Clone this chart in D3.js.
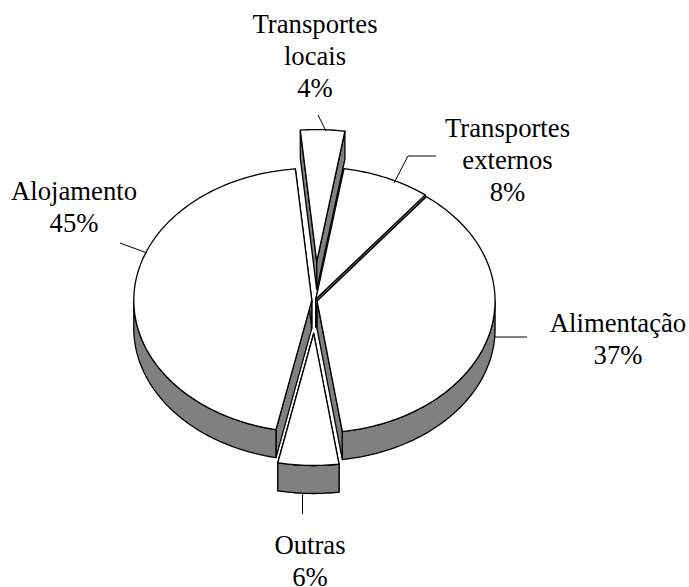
<!DOCTYPE html>
<html lang="en">
<head>
    <meta charset="UTF-8">
    <title>Despesas</title>
    <style>
        html, body { margin: 0; background: #fff; }
        svg { display: block; }
        text { font-family: "Liberation Serif", serif; font-size: 26.7px; fill: #000; }
    </style>
</head>
<body>
    <div id="graphic"></div>

    <script src="https://cdn.jsdelivr.net/npm/d3@7"></script>
    <script>
        var categories = ['Transportes locais', 'Transportes externos', 'Alimentação', 'Outras', 'Alojamento'];
        var shares = [4, 8, 37.2, 5.5, 45.3];

        var width = 689;
        var height = 587;
        var cx = 315, cy = 300.5;
        var rx = 178, ry = 132, depth = 28;
        var wallColor = '#808080';

        // how far each slice is pulled out, same order as categories
        var explode = [0.295, 0.012, 0.012, 0.25, 0.018];
        // painter's order, back to front
        var drawOrder = [0, 1, 4, 2, 3];

        // label block + leader line, same order as categories
        var labelLines = [['Transportes', 'locais'], ['Transportes', 'externos'], ['Alimentação'], ['Outras'], ['Alojamento']];
        var labelAt = [[315, 33], [507.5, 137], [618, 331.5], [310, 553.5], [74, 200]];
        var leaders = [
            [[326, 131], [318, 115]],
            [[394, 183], [408, 156], [436, 156]],
            [[495, 337], [527, 337]],
            [[302.5, 493], [302.5, 514]],
            [[147, 253], [120, 243]]
        ];

        var svg = d3.select('#graphic')
            .append('svg')
            .attr('width', width)
            .attr('height', height);

        var pie = d3.pie().sort(null)
            .startAngle(-5.3 * Math.PI / 180)
            .endAngle(354.7 * Math.PI / 180);
        var slices = pie(shares);

        function rim(a, ox, oy, dy) {
            return [ox + rx * Math.sin(a), oy - ry * Math.cos(a) + dy];
        }

        function arcPoints(a0, a1, ox, oy, dy) {
            var n = Math.max(2, Math.ceil((a1 - a0) / 0.02));
            return d3.range(n + 1).map(function(i) {
                return rim(a0 + (a1 - a0) * i / n, ox, oy, dy);
            });
        }

        var line = d3.line();

        drawOrder.forEach(function(i) {
            var s = slices[i];
            var mid = (s.startAngle + s.endAngle) / 2;
            var ox = cx + explode[i] * rx * Math.sin(mid);
            var oy = cy - explode[i] * ry * Math.cos(mid);
            var g = svg.append('g').attr('class', 'slice');

            var faces = [];
            // the two cut faces
            [s.startAngle, s.endAngle].forEach(function(a) {
                var p = rim(a, ox, oy, 0);
                faces.push([[ox, oy], p, [p[0], p[1] + depth], [ox, oy + depth]]);
            });
            // outer wall, front half only (angles between 90 and 270 deg)
            var lo = Math.max(s.startAngle, Math.PI / 2);
            var hi = Math.min(s.endAngle, 3 * Math.PI / 2);
            if (hi > lo) {
                faces.push(arcPoints(lo, hi, ox, oy, 0).concat(arcPoints(lo, hi, ox, oy, depth).reverse()));
            }

            g.selectAll('path.wall')
                .data(faces)
                .join('path')
                .attr('class', 'wall')
                .attr('d', function(d) { return line(d) + 'Z'; })
                .attr('fill', wallColor)
                .attr('stroke', '#000')
                .attr('stroke-width', 1.3)
                .attr('stroke-linejoin', 'round');

            g.append('path')
                .attr('class', 'top')
                .attr('d', line([[ox, oy]].concat(arcPoints(s.startAngle, s.endAngle, ox, oy, 0))) + 'Z')
                .attr('fill', '#fff')
                .attr('stroke', '#000')
                .attr('stroke-width', 1.3)
                .attr('stroke-linejoin', 'round');
        });

        svg.selectAll('path.leader')
            .data(leaders)
            .join('path')
            .attr('class', 'leader')
            .attr('d', function(d) { return line(d); })
            .attr('fill', 'none')
            .attr('stroke', '#000')
            .attr('stroke-width', 1);

        var lineGap = 32;
        labelLines.forEach(function(lines, i) {
            var t = svg.append('text')
                .attr('text-anchor', 'middle')
                .attr('x', labelAt[i][0])
                .attr('y', labelAt[i][1]);
            lines.concat([Math.round(shares[i]) + '%']).forEach(function(str, k) {
                t.append('tspan')
                    .attr('x', labelAt[i][0])
                    .attr('dy', k ? lineGap : 0)
                    .text(str);
            });
        });
    </script>
</body>
</html>
